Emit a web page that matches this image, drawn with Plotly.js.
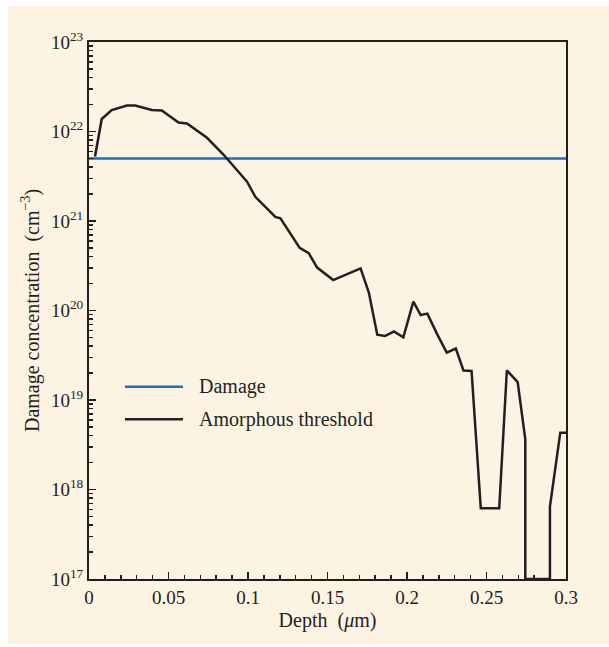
<!DOCTYPE html>
<html>
<head>
<meta charset="utf-8">
<script src="https://cdn.plot.ly/plotly-3.0.1.min.js"></script>
<style>
html,body{margin:0;padding:0;background:#ffffff;}
#chart{position:absolute;left:8px;top:6px;width:601px;height:638px;}
</style>
</head>
<body>
<div id="chart"></div>
<script>
// Data
const depth = [0.0038, 0.0080, 0.0143, 0.0238, 0.0290, 0.0395, 0.0458, 0.0563, 0.0616, 0.0679,
  0.0742, 0.0847, 0.0994, 0.1046, 0.1172, 0.1204, 0.1325, 0.1382, 0.1435, 0.1536,
  0.1708, 0.1760, 0.1813, 0.1861, 0.1918, 0.1977, 0.2040, 0.2086, 0.2128, 0.2191,
  0.2250, 0.2307, 0.2355, 0.2406, 0.2464, 0.2580, 0.2628, 0.2696, 0.2744, 0.2744,
  0.2899, 0.2899, 0.2964, 0.3000];
const logConc = [21.72, 22.14, 22.24, 22.29, 22.29, 22.24, 22.235, 22.10, 22.09, 22.01,
  21.93, 21.74, 21.44, 21.27, 21.045, 21.03, 20.70, 20.64, 20.48, 20.34,
  20.47, 20.20, 19.73, 19.715, 19.765, 19.70, 20.10, 19.95, 19.965, 19.73,
  19.53, 19.575, 19.33, 19.325, 17.79, 17.79, 19.33, 19.20, 18.56, 17.0,
  17.0, 17.81, 18.635, 18.635];
const concentration = logConc.map(v => Math.pow(10, v));
const damageLevel = 5e21;
const damageX = [0, 0.3];
const xTicks = [0, 0.05, 0.1, 0.15, 0.2, 0.25, 0.3];
const xTickText = ['0', '0.05', '0.1', '0.15', '0.2', '0.25', '0.3'];
const yTicks = [1e17, 1e18, 1e19, 1e20, 1e21, 1e22, 1e23];
const yTickText = ['10<sup>17</sup>', '10<sup>18</sup>', '10<sup>19</sup>', '10<sup>20</sup>',
  '10<sup>21</sup>', '10<sup>22</sup>', '10<sup>23</sup>'];
const legendNames = ['Damage', 'Amorphous threshold'];

const ink = '#231f20';
const blue = '#1a6ebf';
const cream = '#fdf3e3';
const family = 'Liberation Serif, Times New Roman, serif';
const tickFont = {family: family, size: 19, color: ink};
const textFont = {family: family, size: 20, color: ink};

const traces = [
  {x: damageX, y: [damageLevel, damageLevel], mode: 'lines', line: {color: blue, width: 2.5},
   name: legendNames[0], showlegend: false, hoverinfo: 'skip'},
  {x: depth, y: concentration, mode: 'lines', line: {color: ink, width: 2.5},
   name: legendNames[1], showlegend: false}
];

const layout = {
  width: 601, height: 638,
  paper_bgcolor: cream, plot_bgcolor: cream,
  margin: {l: 81, r: 43, t: 36, b: 65},
  font: textFont,
  showlegend: false,
  xaxis: {
    range: [0, 0.3], tickvals: xTicks, ticktext: xTickText,
    ticks: 'inside', ticklen: 7, tickwidth: 1.5, tickcolor: ink,
    minor: {ticks: 'inside', ticklen: 4, tickwidth: 1.5, tickcolor: ink, dtick: 0.01, showgrid: false},
    showline: true, linecolor: ink, linewidth: 2, mirror: true,
    showgrid: false, zeroline: false, tickfont: tickFont,
    title: {text: 'Depth&nbsp; (<i>μ</i>m)', font: textFont, standoff: 6}
  },
  yaxis: {
    type: 'log', range: [17, 23], tickvals: yTicks, ticktext: yTickText,
    ticks: 'inside', ticklen: 7, tickwidth: 1.5, tickcolor: ink,
    minor: {ticks: 'inside', ticklen: 4, tickwidth: 1.5, tickcolor: ink, dtick: 'D1', showgrid: false},
    showline: true, linecolor: ink, linewidth: 2, mirror: true,
    showgrid: false, zeroline: false, tickfont: tickFont,
    title: {text: 'Damage concentration&nbsp; (cm<sup>−3</sup>)', font: textFont, standoff: 6}
  },
  shapes: [
    {type: 'line', xref: 'paper', yref: 'paper', x0: 0.0755, x1: 0.197, y0: 0.3578, y1: 0.3578,
     line: {color: blue, width: 2.5}},
    {type: 'line', xref: 'paper', yref: 'paper', x0: 0.0755, x1: 0.197, y0: 0.2976, y1: 0.2976,
     line: {color: ink, width: 2.5}}
  ],
  annotations: [
    {xref: 'paper', yref: 'paper', x: 0.2264, y: 0.3578, xanchor: 'left', yanchor: 'middle',
     text: legendNames[0], showarrow: false, font: textFont},
    {xref: 'paper', yref: 'paper', x: 0.2264, y: 0.2976, xanchor: 'left', yanchor: 'middle',
     text: legendNames[1], showarrow: false, font: textFont}
  ]
};

Plotly.newPlot('chart', traces, layout, {displayModeBar: false, staticPlot: true});
</script>
</body>
</html>
